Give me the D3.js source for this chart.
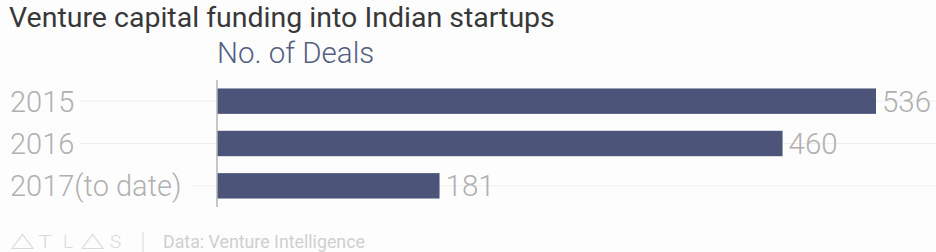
<!DOCTYPE html>
<html>
<head>
<meta charset="utf-8">
<script src="https://cdn.jsdelivr.net/npm/d3@7"></script>
<style>
  body { margin: 0; background: #fdfdfd; }
  svg { display: block; font-family: Roboto, "Noto Sans", sans-serif; }
</style>
</head>
<body>
<svg></svg>
<script>
// Venture capital funding into Indian startups - no. of deals

let width = 936, height = 252;

let years = ["2015", "2016", "2017(to date)"];
let deals = [536, 460, 181];

let svg = d3.select("svg")
  .attr("width", width)
  .attr("height", height);

svg.append("rect")
  .attr("width", width)
  .attr("height", height)
  .attr("fill", "#fdfdfd");

let x = d3.scaleLinear()
  .domain([0, 536])
  .range([217, 876]);

let y = d3.scaleBand()
  .domain(years)
  .range([80, 207])
  .paddingInner(0.4)
  .paddingOuter(0.2);

// title
svg.append("text")
  .attr("x", 9)
  .attr("y", 27)
  .attr("fill", "#383838")
  .style("font-size", "28.5px")
  .text("Venture capital funding into Indian startups");

svg.append("text")
  .attr("x", 217)
  .attr("y", 63)
  .attr("fill", "#555d82")
  .style("font-size", "29.5px")
  .style("font-weight", 300)
  .text("No. of Deals");

// faint row lines
svg.append("g")
  .selectAll("line")
  .data(years)
  .enter()
  .append("line")
  .attr("x1", (d, i) => i == 2 ? 190 : 80)
  .attr("x2", width)
  .attr("y1", d => y(d) + y.bandwidth() / 2)
  .attr("y2", d => y(d) + y.bandwidth() / 2)
  .attr("stroke", "#efefef")
  .attr("stroke-width", 1);

// bars
svg.append("g")
  .selectAll("rect")
  .data(deals)
  .enter()
  .append("rect")
  .attr("x", x(0))
  .attr("y", (d, i) => y(years[i]))
  .attr("width", d => x(d) - x(0))
  .attr("height", y.bandwidth())
  .attr("fill", "#4c5479");

// axis line
svg.append("line")
  .attr("x1", x(0))
  .attr("x2", x(0))
  .attr("y1", y.range()[0])
  .attr("y2", y.range()[1])
  .attr("stroke", "#b5b5b5")
  .attr("stroke-width", 1.5);

// category labels
svg.append("g")
  .selectAll("text")
  .data(years)
  .enter()
  .append("text")
  .attr("x", 10)
  .attr("y", d => y(d) + y.bandwidth() / 2)
  .attr("dy", "0.36em")
  .attr("fill", "#b0b0b0")
  .style("font-size", "29px")
  .style("font-weight", 300)
  .text(d => d);

// value labels
svg.append("g")
  .selectAll("text")
  .data(deals)
  .enter()
  .append("text")
  .attr("x", d => x(d) + 6)
  .attr("y", (d, i) => y(years[i]) + y.bandwidth() / 2)
  .attr("dy", "0.36em")
  .attr("fill", "#b0b0b0")
  .style("font-size", "29.5px")
  .style("font-weight", 300)
  .text(d => d);

// footer: ATLAS logo + source
let foot = svg.append("g").attr("fill", "none").attr("stroke", "#dadada").attr("stroke-width", 1.2);
[12, 82].forEach(x0 => {
  foot.append("path").attr("d", `M${x0},248.5 L${x0 + 10.5},234.5 L${x0 + 21},248.5 Z`);
});
svg.append("g")
  .attr("fill", "#dadada")
  .style("font-size", "19px")
  .style("font-weight", 300)
  .selectAll("text")
  .data([["T", 38, 1.25], ["L", 63, 1], ["S", 110, 1]])
  .enter()
  .append("text")
  .attr("transform", d => `translate(${d[1]},248) scale(${d[2]},1)`)
  .text(d => d[0]);
svg.append("line")
  .attr("x1", 143).attr("x2", 143)
  .attr("y1", 232).attr("y2", 252)
  .attr("stroke", "#dadada");
svg.append("text")
  .attr("x", 163)
  .attr("y", 248)
  .attr("fill", "#cfcfcf")
  .style("font-size", "17.8px")
  .text("Data: Venture Intelligence");
</script>
</body>
</html>
